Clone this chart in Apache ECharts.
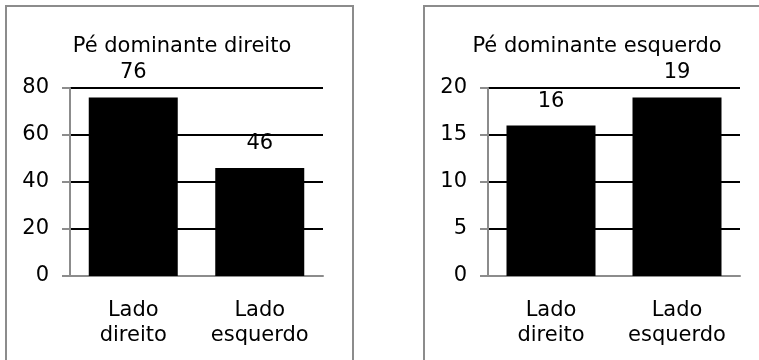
<!DOCTYPE html>
<html>
<head>
<meta charset="utf-8">
<script src="https://cdn.jsdelivr.net/npm/echarts@6/dist/echarts.min.js"></script>
<style>
  html, body { margin: 0; padding: 0; background: #fff; }
  #chart { width: 759px; height: 360px; }
</style>
</head>
<body>
<div id="chart"></div>
<script>
// Dominant-foot survey: side counts for each group
const categories = ['Lado\ndireito', 'Lado\nesquerdo'];
const rightFootValues = [76, 46];
const leftFootValues = [16, 19];
const rightFootTicks = [0, 20, 40, 60, 80];
const leftFootTicks = [0, 5, 10, 15, 20];
const panelTitles = ['Pé dominante direito', 'Pé dominante esquerdo'];

const FONT = 'DejaVu Sans';
const SIZE = 21;
const chart = echarts.init(document.getElementById('chart'), null, { renderer: 'canvas' });

function yAxis(gridIndex, ticks) {
  return {
    type: 'value',
    gridIndex,
    min: ticks[0],
    max: ticks[ticks.length - 1],
    interval: ticks[1] - ticks[0],
    axisLine: { show: true, lineStyle: { color: '#8c8c8c', width: 2 } },
    axisTick: { show: true, length: 8, lineStyle: { color: '#8c8c8c', width: 2 } },
    axisLabel: { margin: 21, fontFamily: FONT, fontSize: SIZE, color: '#000' },
    splitLine: { show: true, lineStyle: { color: '#000', width: 2 } }
  };
}

function xAxis(gridIndex) {
  return {
    type: 'category',
    gridIndex,
    data: categories,
    axisLine: { show: true, lineStyle: { color: '#8c8c8c', width: 2 } },
    axisTick: { show: false },
    axisLabel: { interval: 0, hideOverlap: false, margin: 22, fontFamily: FONT, fontSize: SIZE,
                 lineHeight: 25, color: '#000' }
  };
}

function barSeries(idx, values) {
  return {
    type: 'bar',
    xAxisIndex: idx,
    yAxisIndex: idx,
    data: values,
    barWidth: 89,
    itemStyle: { color: '#000' },
    label: {
      show: true,
      position: 'top',
      distance: 14,
      fontFamily: FONT,
      fontSize: SIZE,
      color: '#000'
    }
  };
}

const titleStyle = { fontFamily: FONT, fontSize: SIZE, fontWeight: 'normal', color: '#000' };

chart.setOption({
  animation: false,
  title: [
    { text: panelTitles[0], left: 177, top: 31, textAlign: 'center', textStyle: titleStyle },
    { text: panelTitles[1], left: 592, top: 31, textAlign: 'center', textStyle: titleStyle }
  ],
  grid: [
    { left: 70, top: 88, width: 253, height: 188 },
    { left: 488, top: 88, width: 252, height: 188 }
  ],
  xAxis: [xAxis(0), xAxis(1)],
  yAxis: [yAxis(0, rightFootTicks), yAxis(1, leftFootTicks)],
  series: [barSeries(0, rightFootValues), barSeries(1, leftFootValues)],
  graphic: [
    { type: 'rect', shape: { x: 6, y: 6, width: 347, height: 370 }, z: -1,
      style: { fill: 'none', stroke: '#8c8c8c', lineWidth: 2 } },
    { type: 'rect', shape: { x: 424, y: 6, width: 347, height: 370 }, z: -1,
      style: { fill: 'none', stroke: '#8c8c8c', lineWidth: 2 } }
  ]
});
</script>
</body>
</html>
